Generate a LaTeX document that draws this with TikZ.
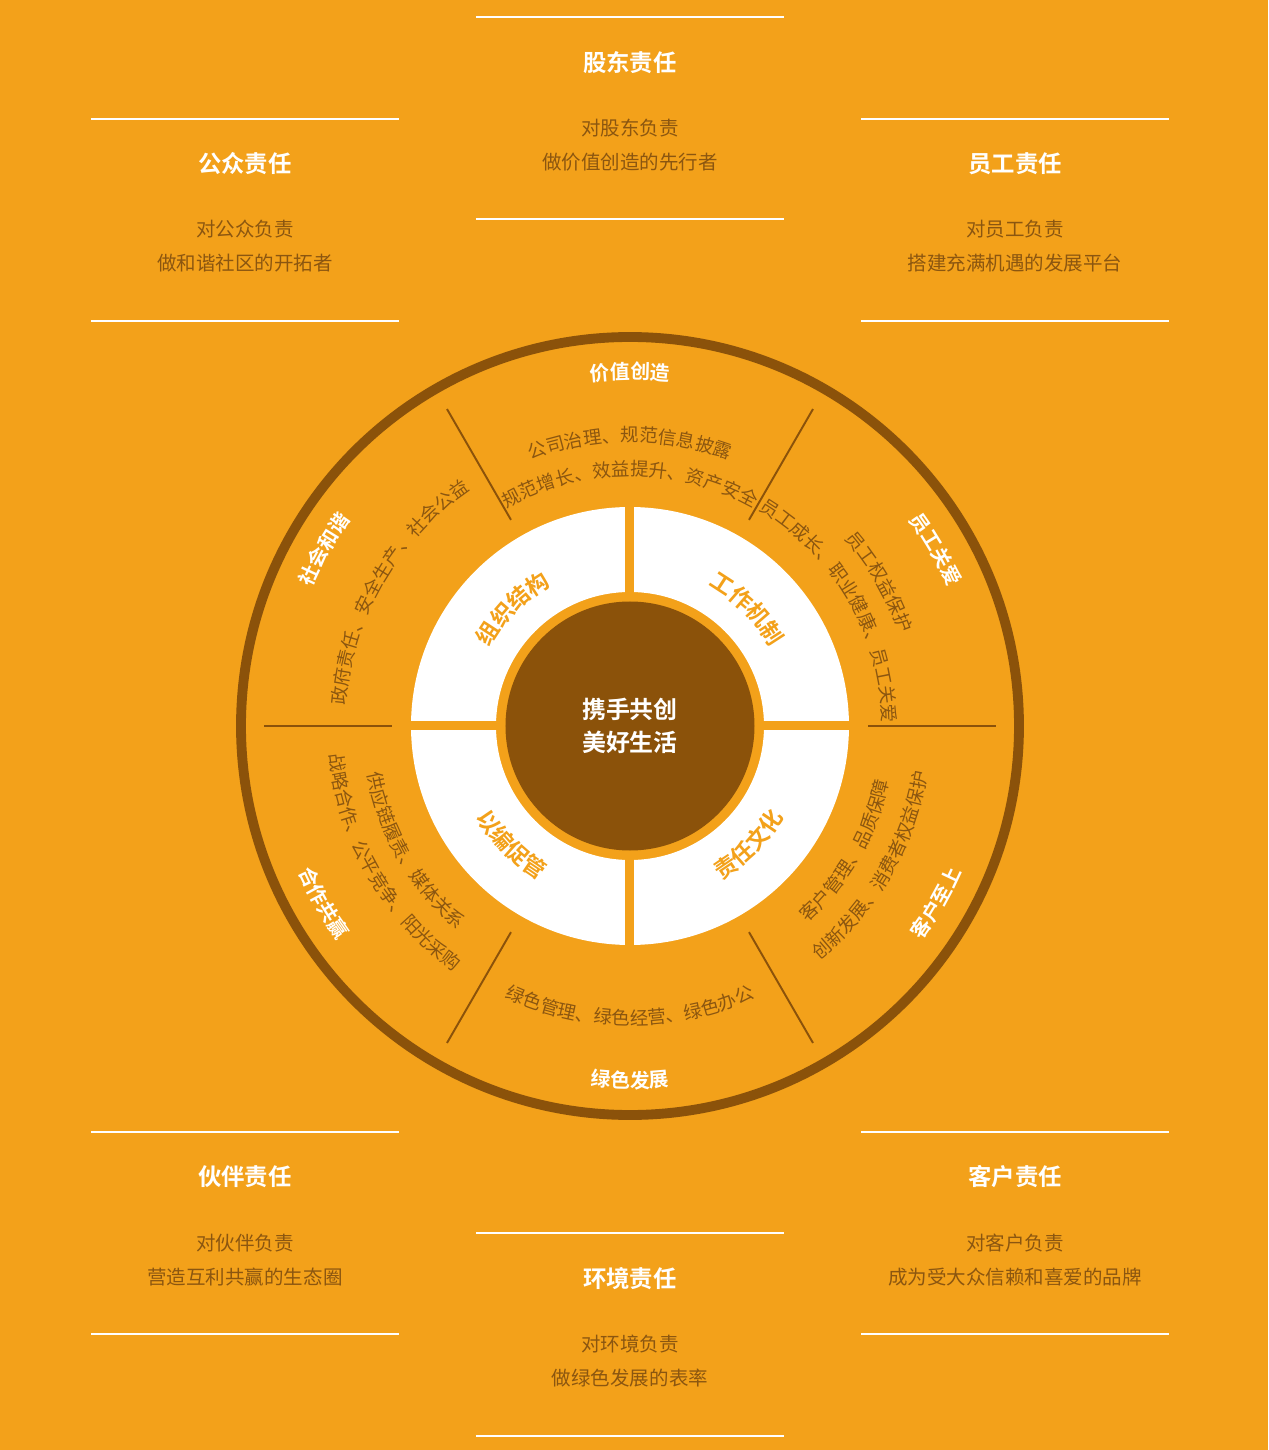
\documentclass[tikz,border=0pt]{standalone}
\usepackage{fontspec}
\setmainfont{Noto Sans CJK SC}[BoldFont={Noto Sans CJK SC Bold}]
\usetikzlibrary{decorations.text}

\definecolor{bgorange}{RGB}{243,161,26}
\definecolor{ringbrown}{RGB}{139,82,10}
\definecolor{textbrown}{RGB}{139,86,16}

\newcommand{\bandfont}{\fontsize{10.5}{12}\selectfont}
\newcommand{\sectorfont}{\bfseries\fontsize{11.3}{13}\selectfont}
\newcommand{\quadfont}{\bfseries\fontsize{12.8}{15}\selectfont}

\begin{document}
\begin{tikzpicture}[x=0.02cm, y=0.02cm,
    rule/.style={white, line width=1.6pt},
    boxtitle/.style={white, font=\bfseries\fontsize{13.3}{16}\selectfont},
    boxtext/.style={textbrown, align=center, font=\fontsize{11.1}{19.3}\selectfont},
    divider/.style={ringbrown, line width=1.1pt},
    alongarc/.style 2 args={decorate, decoration={text along path, text align=center, text color=#1, text={#2}}}]
    % 1 unit = 1 px of the 1268x1450 picture, origin at the centre of the wheel

    % --- Background ---
    \fill[bgorange] (-630,-724) rectangle (638,726);

    % --- Responsibility boxes (rules, titles, texts) ---
    % Shareholders (top)
    \draw[rule] (-154,709) -- (154,709);
    \draw[rule] (-154,507) -- (154,507);
    \node[boxtitle] (holder-title) at (0,663) {股东责任};
    \node[boxtext] (holder-text) at (0,581) {对股东负责\\做价值创造的先行者};

    % Public (top left)
    \draw[rule] (-539,607) -- (-231,607);
    \draw[rule] (-539,405) -- (-231,405);
    \node[boxtitle] (public-title) at (-385,562) {公众责任};
    \node[boxtext] (public-text) at (-385,480) {对公众负责\\做和谐社区的开拓者};

    % Staff (top right)
    \draw[rule] (231,607) -- (539,607);
    \draw[rule] (231,405) -- (539,405);
    \node[boxtitle] (staff-title) at (385,562) {员工责任};
    \node[boxtext] (staff-text) at (385,480) {对员工负责\\搭建充满机遇的发展平台};

    % Partners (bottom left)
    \draw[rule] (-539,-406) -- (-231,-406);
    \draw[rule] (-539,-608) -- (-231,-608);
    \node[boxtitle] (partner-title) at (-385,-451) {伙伴责任};
    \node[boxtext] (partner-text) at (-385,-534) {对伙伴负责\\营造互利共赢的生态圈};

    % Customers (bottom right)
    \draw[rule] (231,-406) -- (539,-406);
    \draw[rule] (231,-608) -- (539,-608);
    \node[boxtitle] (client-title) at (385,-451) {客户责任};
    \node[boxtext] (client-text) at (385,-534) {对客户负责\\成为受大众信赖和喜爱的品牌};

    % Environment (bottom)
    \draw[rule] (-154,-507) -- (154,-507);
    \draw[rule] (-154,-710) -- (154,-710);
    \node[boxtitle] (env-title) at (0,-553) {环境责任};
    \node[boxtext] (env-text) at (0,-635) {对环境负责\\做绿色发展的表率};

    % --- Wheel ---
    \draw[ringbrown, line width=5.6pt] (0,0) circle (389); % outer ring

    % sector dividers
    \draw[divider] (0:238) -- (0:366);
    \draw[divider] (60:238) -- (60:366);
    \draw[divider] (120:238) -- (120:366);
    \draw[divider] (180:238) -- (180:366);
    \draw[divider] (240:238) -- (240:366);
    \draw[divider] (300:238) -- (300:366);

    % white quarters
    \fill[white, even odd rule] (0,0) circle (219) (0,0) circle (134);
    \fill[bgorange] (-4.5,-225) rectangle (4.5,225);
    \fill[bgorange] (-225,-4.5) rectangle (225,4.5);
    \fill[ringbrown] (0,0) circle (124.5); % core

    % --- Core text ---
    \node[white, align=center, font=\bfseries\fontsize{13.6}{18.7}\selectfont] (core) at (0,0) {携手共创\\美好生活};

    % --- Quarter labels ---
    \path[alongarc={bgorange}{|\quadfont|组织结构}] (175:161) arc[start angle=175, end angle=95, radius=161];
    \path[alongarc={bgorange}{|\quadfont|工作机制}] (85:161) arc[start angle=85, end angle=5, radius=161];
    \path[alongarc={bgorange}{|\quadfont|以编促管}] (185:179) arc[start angle=185, end angle=265, radius=179];
    \path[alongarc={bgorange}{|\quadfont|责任文化}] (275:179) arc[start angle=275, end angle=355, radius=179];

    % --- Sector labels ---
    \path[alongarc={white}{|\sectorfont|价值创造}] (130:347) arc[start angle=130, end angle=50, radius=347];
    \path[alongarc={white}{|\sectorfont|员工关爱}] (70:347) arc[start angle=70, end angle=-10, radius=347];
    \path[alongarc={white}{|\sectorfont|社会和谐}] (190:347) arc[start angle=190, end angle=110, radius=347];
    \path[alongarc={white}{|\sectorfont|绿色发展}] (230:362) arc[start angle=230, end angle=310, radius=362];
    \path[alongarc={white}{|\sectorfont|客户至上}] (290:362) arc[start angle=290, end angle=370, radius=362];
    \path[alongarc={white}{|\sectorfont|合作共赢}] (170:362) arc[start angle=170, end angle=250, radius=362];

    % --- Sector contents ---
    \path[alongarc={textbrown}{|\bandfont|公司治理、规范信息披露}] (140:284) arc[start angle=140, end angle=40, radius=284];
    \path[alongarc={textbrown}{|\bandfont|规范增长、效益提升、资产安全}] (140:250) arc[start angle=140, end angle=40, radius=250];
    \path[alongarc={textbrown}{|\bandfont|员工权益保护}] (80:285) arc[start angle=80, end angle=-20, radius=285];
    \path[alongarc={textbrown}{|\bandfont|员工成长、职业健康、员工关爱}] (80:252) arc[start angle=80, end angle=-20, radius=252];
    \path[alongarc={textbrown}{|\bandfont|政府责任、安全生产、社会公益}] (200:285) arc[start angle=200, end angle=100, radius=285];
    \path[alongarc={textbrown}{|\bandfont|绿色管理、绿色经营、绿色办公}] (220:299) arc[start angle=220, end angle=320, radius=299];
    \path[alongarc={textbrown}{|\bandfont|战略合作、公平竞争、阳光采购}] (160:302) arc[start angle=160, end angle=260, radius=302];
    \path[alongarc={textbrown}{|\bandfont|供应链履责、媒体关系}] (160:267) arc[start angle=160, end angle=260, radius=267];
    \path[alongarc={textbrown}{|\bandfont|创新发展、消费者权益保护}] (280:301) arc[start angle=280, end angle=380, radius=301];
    \path[alongarc={textbrown}{|\bandfont|客户管理、品质保障}] (280:265) arc[start angle=280, end angle=380, radius=265];

\end{tikzpicture}
\end{document}
